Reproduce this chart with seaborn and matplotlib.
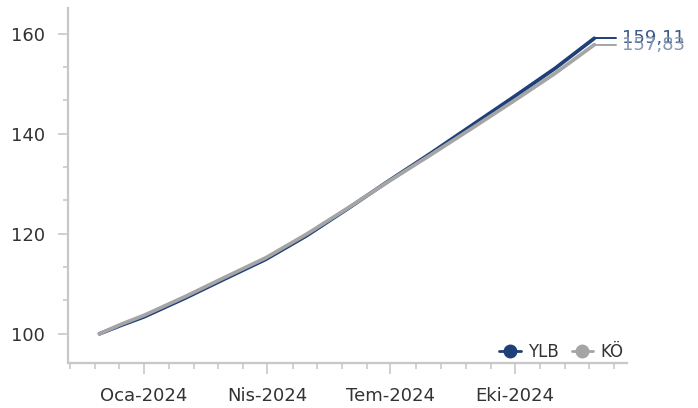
import numpy as np
import pandas as pd
import matplotlib
matplotlib.use("Agg")
import matplotlib.pyplot as plt
import matplotlib.dates as mdates
from matplotlib.lines import Line2D
from matplotlib.ticker import AutoMinorLocator, FixedLocator, FuncFormatter
import seaborn as sns

# Data
dates = ["2023-11-29", "2023-12-15", "2024-01-01", "2024-01-31", "2024-02-29",
         "2024-03-31", "2024-04-30", "2024-05-31", "2024-06-30", "2024-07-31",
         "2024-08-31", "2024-09-30", "2024-10-31", "2024-11-29"]
ylb = [100.0, 101.7, 103.4, 107.1, 110.9, 114.9, 119.6, 125.1, 130.6, 136.1,
       141.8, 147.3, 153.1, 159.11]
ko = [100.0, 101.9, 103.7, 107.4, 111.2, 115.2, 119.9, 125.2, 130.5, 135.8,
      141.2, 146.5, 152.1, 157.83]
series_names = ["YLB", "KÖ"]
month_names = ["Oca", "Şub", "Mar", "Nis", "May", "Haz",
               "Tem", "Ağu", "Eyl", "Eki", "Kas", "Ara"]

colors = {"YLB": "#1f3f78", "KÖ": "#a5a5a5"}
label_colors = {"YLB": "#3a5a8c", "KÖ": "#8797ad"}

df = pd.DataFrame({
    "tarih": pd.to_datetime(dates * 2),
    "deger": ylb + ko,
    "seri": ["YLB"] * len(ylb) + ["KÖ"] * len(ko),
})

sns.set_style("ticks")
plt.rcParams["font.family"] = ["DejaVu Sans"]

fig = plt.figure(figsize=(6.98, 4.08), dpi=100)
ax = fig.add_axes([0.098, 0.1096, 0.80, 0.870])

sns.lineplot(data=df, x="tarih", y="deger", hue="seri", hue_order=series_names,
             palette=colors, linewidth=2.7, legend=False, ax=ax)

# end-of-line labels with a short horizontal lead line
for name, vals in zip(series_names, [ylb, ko]):
    last_date = pd.Timestamp(dates[-1])
    end_date = last_date + pd.Timedelta(days=16)
    ax.plot([last_date, end_date], [vals[-1], vals[-1]],
            color=colors[name], linewidth=1.4)
    ax.annotate(f"{vals[-1]:.2f}".replace(".", ","),
                xy=(end_date, vals[-1]), xytext=(4, 0), textcoords="offset points",
                va="center", ha="left", fontsize=13, color=label_colors[name],
                annotation_clip=False)

ax.set_xlim(pd.Timestamp("2023-11-06"), pd.Timestamp("2024-12-23"))
ax.set_ylim(94.1, 165.1)

ax.xaxis.set_major_locator(mdates.MonthLocator(bymonth=[1, 4, 7, 10]))
ax.xaxis.set_major_formatter(FuncFormatter(
    lambda x, pos: f"{month_names[mdates.num2date(x).month - 1]}-{mdates.num2date(x).year}"))
base = mdates.date2num(pd.Timestamp("2024-01-01"))
minor = [base + k * 18.3 for k in range(-3, 20) if k % 5 != 0]
ax.xaxis.set_minor_locator(FixedLocator(minor))

ax.set_yticks([100, 120, 140, 160])
ax.yaxis.set_minor_locator(AutoMinorLocator(3))

for side in ["top", "right"]:
    ax.spines[side].set_visible(False)
for side in ["left", "bottom"]:
    ax.spines[side].set_color("#c8c8c8")
    ax.spines[side].set_linewidth(1.6)

ax.tick_params(axis="both", which="both", color="#c8c8c8", width=1.2,
               labelcolor="#333333", labelsize=13, bottom=True, left=True)
ax.tick_params(axis="y", which="major", length=7, pad=10)
ax.tick_params(axis="y", which="minor", length=3.5)
ax.tick_params(axis="x", which="major", length=8, pad=9)
ax.tick_params(axis="x", which="minor", length=4.5)
ax.set_xlabel("")
ax.set_ylabel("")

handles = [Line2D([0], [0], color=colors[n], marker="o", markersize=9, linewidth=2)
           for n in series_names]
ax.legend(handles, series_names, loc="lower right", bbox_to_anchor=(1.02, -0.035),
          ncol=2, frameon=False, fontsize=12, handlelength=1.3,
          handletextpad=0.4, columnspacing=0.8, labelcolor="#333333")

fig.savefig("out.png", dpi=100)
